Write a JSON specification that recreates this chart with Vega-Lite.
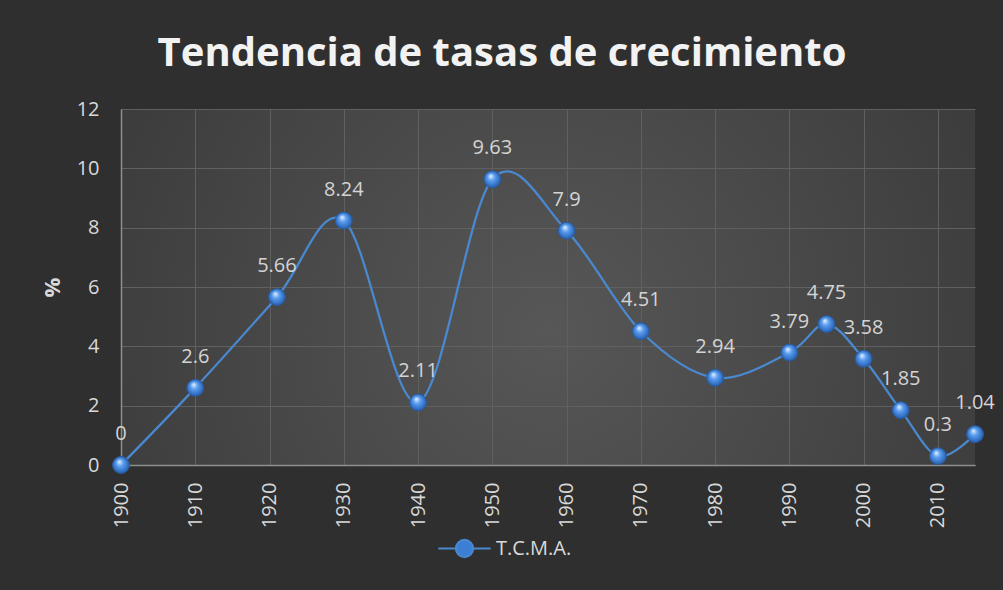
{
  "$schema": "https://vega.github.io/schema/vega-lite/v6.json",
  "width": 854,
  "height": 356,
  "autosize": {"type": "none"},
  "padding": {"left": 121, "top": 109, "right": 28, "bottom": 125},
  "background": "#2f2f2f",
  "config": {
    "font": "Open Sans",
    "view": {
      "stroke": null,
      "fill": {
        "gradient": "radial",
        "x1": 0.5, "y1": 0.55, "r1": 0,
        "x2": 0.5, "y2": 0.55, "r2": 0.75,
        "stops": [
          {"offset": 0, "color": "#575757"},
          {"offset": 1, "color": "#333333"}
        ]
      }
    }
  },
  "title": {
    "text": "Tendencia de tasas de crecimiento",
    "font": "Open Sans",
    "fontSize": 40,
    "fontWeight": "bold",
    "color": "#f2f2f2",
    "anchor": "middle",
    "offset": 25,
    "dx": -46
  },
  "data": {
    "values": [
      {"year": 1900, "value": 0},
      {"year": 1910, "value": 2.6},
      {"year": 1921, "value": 5.66},
      {"year": 1930, "value": 8.24},
      {"year": 1940, "value": 2.11},
      {"year": 1950, "value": 9.63},
      {"year": 1960, "value": 7.9},
      {"year": 1970, "value": 4.51},
      {"year": 1980, "value": 2.94},
      {"year": 1990, "value": 3.79},
      {"year": 1995, "value": 4.75},
      {"year": 2000, "value": 3.58},
      {"year": 2005, "value": 1.85},
      {"year": 2010, "value": 0.3},
      {"year": 2015, "value": 1.04}
    ]
  },
  "encoding": {
    "x": {
      "field": "year",
      "type": "quantitative",
      "scale": {"domain": [1900, 2015], "nice": false, "zero": false},
      "axis": {
        "values": [1900, 1910, 1920, 1930, 1940, 1950, 1960, 1970, 1980, 1990, 2000, 2010],
        "format": "d",
        "title": null,
        "labelAngle": 270,
        "labelAlign": "right",
        "labelBaseline": "middle",
        "labelFontSize": 20,
        "labelColor": "#d9d9d9",
        "labelPadding": 17,
        "ticks": false,
        "tickSize": 0,
        "domainColor": "#8f8f8f",
        "domainWidth": 1.5,
        "grid": true,
        "gridColor": "#606060",
        "gridWidth": 1
      }
    },
    "y": {
      "field": "value",
      "type": "quantitative",
      "scale": {"domain": [0, 12], "nice": false},
      "axis": {
        "values": [0, 2, 4, 6, 8, 10, 12],
        "title": "%",
        "titleAngle": 270,
        "titleFontSize": 22,
        "titleFontWeight": "bold",
        "titleColor": "#d9d9d9",
        "titleX": -69,
        "titleY": 178,
        "titleAlign": "center",
        "titleBaseline": "middle",
        "labelFontSize": 20,
        "labelColor": "#d9d9d9",
        "labelPadding": 22,
        "ticks": false,
        "tickSize": 0,
        "domainColor": "#8f8f8f",
        "domainWidth": 1.5,
        "grid": true,
        "gridColor": "#606060",
        "gridWidth": 1
      }
    }
  },
  "layer": [
    {
      "mark": {"type": "line", "interpolate": "cardinal", "strokeWidth": 2.25},
      "encoding": {
        "color": {
          "datum": "T.C.M.A.",
          "scale": {"range": ["#4a88d0"]},
          "legend": {
            "title": null,
            "orient": "none",
            "legendX": 316,
            "legendY": 412,
            "symbolType": "M-1,0L-0.33,0M0.33,0L1,0M-0.33,0A0.33,0.33 0 1,0 0.33,0A0.33,0.33 0 1,0 -0.33,0Z",
            "symbolSize": 2750,
            "symbolStrokeWidth": 2,
            "symbolFillColor": "#3d7fd4",
            "symbolStrokeColor": "#4a88d0",
            "labelFontSize": 20,
            "labelColor": "#d9d9d9",
            "labelFont": "Open Sans",
            "labelOffset": 4
          }
        }
      }
    },
    {
      "mark": {
        "type": "point",
        "shape": "circle",
        "filled": true,
        "size": 285,
        "opacity": 1,
        "fill": {
          "gradient": "radial",
          "x1": 0.4, "y1": 0.3, "r1": 0.03,
          "x2": 0.5, "y2": 0.5, "r2": 0.55,
          "stops": [
            {"offset": 0, "color": "#d8eaff"},
            {"offset": 0.35, "color": "#5c9ef0"},
            {"offset": 1, "color": "#1d58aa"}
          ]
        },
        "stroke": "#2a5b9e",
        "strokeWidth": 1
      }
    },
    {
      "mark": {
        "type": "text",
        "dy": -31,
        "baseline": "middle",
        "align": "center",
        "fontSize": 20,
        "font": "Open Sans",
        "color": "#d4d4d4"
      },
      "encoding": {
        "text": {"field": "value", "type": "quantitative"}
      }
    }
  ]
}
